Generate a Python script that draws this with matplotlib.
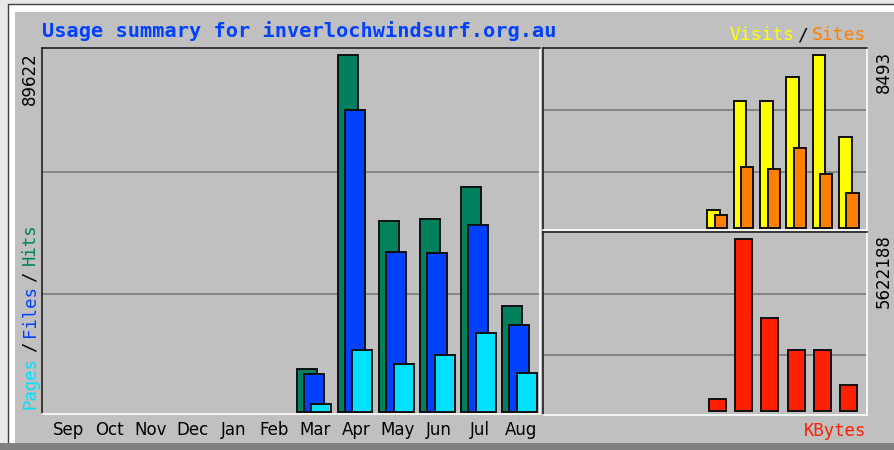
import matplotlib
matplotlib.use("Agg")
import matplotlib.pyplot as plt
import numpy as np
from matplotlib.patches import Rectangle

# Monthly usage data
months = ["Sep", "Oct", "Nov", "Dec", "Jan", "Feb", "Mar", "Apr", "May", "Jun", "Jul", "Aug"]
hits = [0, 0, 0, 0, 0, 0, 10700, 89622, 48020, 48440, 56550, 26530]
files = [0, 0, 0, 0, 0, 0, 9460, 75800, 40240, 39830, 46860, 21760]
pages = [0, 0, 0, 0, 0, 0, 1930, 15560, 12050, 14230, 19900, 9860]
visits = [0, 0, 0, 0, 0, 0, 884, 6235, 6235, 7430, 8493, 4450]
sites = [0, 0, 0, 0, 0, 0, 638, 2980, 2880, 3910, 2635, 1700]
kbytes = [0, 0, 0, 0, 0, 0, 393000, 5622188, 3035000, 1997000, 1997000, 851000]

title = "Usage summary for inverlochwindsurf.org.au"

C_HITS, C_FILES, C_PAGES = "#00805c", "#0040ff", "#00e0ff"
C_VISITS, C_SITES, C_KB = "#ffff00", "#ff8000", "#ff2000"
BG = "#c0c0c0"
GRID = "#808080"

W, H = 894, 450
fig = plt.figure(figsize=(W / 100, H / 100), dpi=100)
fig.patch.set_facecolor("#e8e8e8")


def fx(x):
    return x / W


def fy(y):
    return 1 - y / H


def rect(x0, y0, x1, y1, **kw):
    fig.add_artist(Rectangle((fx(x0), fy(y1)), (x1 - x0) / W, (y1 - y0) / H,
                             transform=fig.transFigure, zorder=-5, **kw))


# image frame: dark outline, white bevel, gray body, dark bottom band
rect(8, 4, 900, 460, facecolor="white", edgecolor="#404040", linewidth=1.0)
rect(15, 12, 900, 443, facecolor=BG, edgecolor="none")
rect(0, 443, 900, 450, facecolor="#808080", edgecolor="none")


def panel(x0, y0, x1, y1):
    ax = fig.add_axes([fx(x0), fy(y1), (x1 - x0) / W, (y1 - y0) / H])
    ax.set_facecolor(BG)
    for side in ("top", "left"):
        ax.spines[side].set_color("#202020")
        ax.spines[side].set_linewidth(1.2)
    for side in ("bottom", "right"):
        ax.spines[side].set_color("white")
        ax.spines[side].set_linewidth(1.2)
    ax.set_xticks([])
    ax.set_yticks([])
    return ax


def grid(ax, fracs=(0.327, 0.661)):
    lo, hi = ax.get_ylim()
    for f in fracs:
        ax.axhline(lo + f * (hi - lo), color=GRID, linewidth=1.3, zorder=1)


def bars(ax, x, vals, width, color):
    x = np.asarray(x, dtype=float)
    vals = np.asarray(vals, dtype=float)
    m = vals > 0
    ax.bar(x[m], vals[m], width=width, color=color, edgecolor="#101010",
           linewidth=1.4, zorder=3)


idx = np.arange(len(months))

# main panel: hits / files / pages
ax = panel(42, 48, 540, 414)
ax.set_xlim(-0.616, 11.5)
top = max(hits) * 364 / 357
ax.set_ylim(-top * 2 / 364, top)
grid(ax)
bars(ax, idx - 0.17, hits, 0.487, C_HITS)
bars(ax, idx, files, 0.487, C_FILES)
bars(ax, idx + 0.18, pages, 0.487, C_PAGES)

# top-right panel: visits / sites
ax2 = panel(543, 48, 867, 230)
ax2.set_xlim(-0.616, 11.7)
top2 = max(visits) * 180 / 173
ax2.set_ylim(-top2 * 2 / 180, top2)
grid(ax2, (0.319, 0.659))
bars(ax2, idx - 0.125, visits, 0.48, C_VISITS)
bars(ax2, idx + 0.15, sites, 0.46, C_SITES)

# bottom-right panel: kbytes
ax3 = panel(543, 232, 867, 415)
ax3.set_xlim(-0.616, 11.7)
top3 = max(kbytes) * 179 / 171.7
ax3.set_ylim(-top3 * 4 / 179, top3)
grid(ax3, (0.328, 0.661))
bars(ax3, idx + 0.01, kbytes, 0.646, C_KB)

# texts
mono = "DejaVu Sans Mono"
fig.text(fx(42), fy(31), title, color="#0040ff", family=mono, weight="bold",
         fontsize=14.6, ha="left", va="center")

fig.text(fx(729), fy(35), "Visits", color=C_VISITS, family=mono, fontsize=13.0,
         ha="left", va="center")
fig.text(fx(803), fy(35), "/", color="black", family=mono, fontsize=13.0,
         ha="center", va="center")
fig.text(fx(866), fy(35), "Sites", color=C_SITES, family=mono, fontsize=13.0,
         ha="right", va="center")

fig.text(fx(866), fy(431), "KBytes", color=C_KB, family=mono, fontsize=12.4,
         ha="right", va="center")

for txt, y, col in [("Pages", 383, C_PAGES), ("/", 347, "black"), ("Files", 311, C_FILES),
                    ("/", 277, "black"), ("Hits", 244, C_HITS)]:
    fig.text(fx(30), fy(y), txt, color=col, family=mono, fontsize=12.4,
             rotation=90, ha="center", va="center")

fig.text(fx(30), fy(79), f"{max(hits)}", color="black", fontsize=12,
         rotation=90, ha="center", va="center")
fig.text(fx(884), fy(72), f"{max(visits)}", color="black", fontsize=12,
         rotation=90, ha="center", va="center")
fig.text(fx(884), fy(271), f"{max(kbytes)}", color="black", fontsize=12,
         rotation=90, ha="center", va="center")

# month labels under the main panel
for i, mname in enumerate(months):
    xpix = 67.3 + 41.1 * i + 1.5
    fig.text(fx(xpix), fy(430), mname, color="black", fontsize=12,
             ha="center", va="center")

plt.savefig("out.png", dpi=100, facecolor=fig.get_facecolor())
